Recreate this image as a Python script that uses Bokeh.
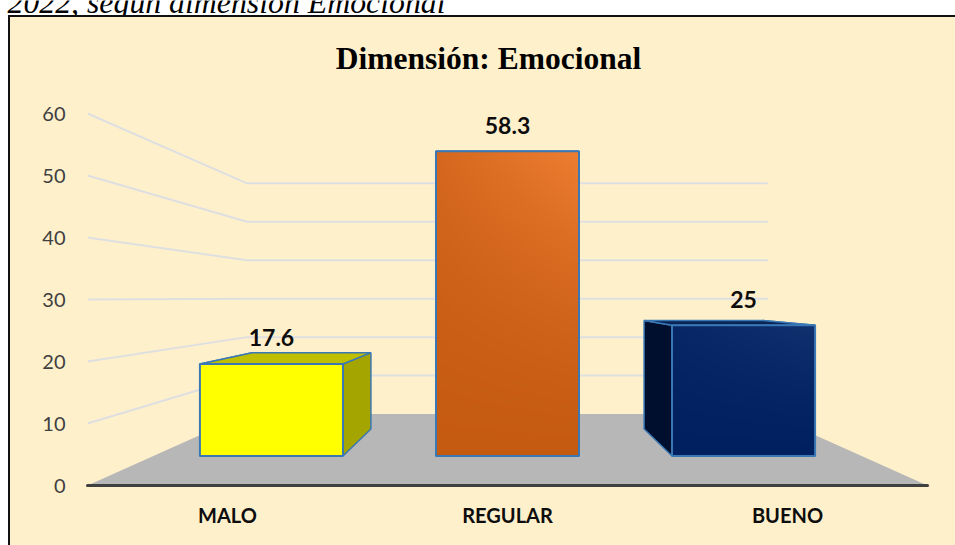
import numpy as np
from bokeh.embed import file_html
from bokeh.models import FixedTicker, Range1d
from bokeh.plotting import figure
from bokeh.resources import INLINE
from bokeh.core.properties import value

categories = ["MALO", "REGULAR", "BUENO"]
values = [17.6, 58.3, 25]
value_labels = ["17.6", "58.3", "25"]
y_ticks = [0, 10, 20, 30, 40, 50, 60]
title_text = "Dimensión: Emocional"
caption_text = "2022, según dimensión Emocional"

# colours per bar: front (dark / light end of the shading), top, left side, right side
front_low = ["#FFFF00", "#C55A11", "#002060"]
front_high = ["#FFFF00", "#ED7D31", "#10306E"]
top_colors = ["#BFBF00", "#843C0C", "#0A2456"]
left_colors = ["#A5A500", "#843C0C", "#000F2E"]
right_colors = ["#A5A500", "#843C0C", "#000F2E"]

# 3-D projection of the original chart
DEPTH_SHRINK = 0.38
FLOOR_LIFT = 11.53
FACE_DEPTH = 0.413
REAR_DEPTH = 0.79
BAR_WIDTH = 0.606
CENTER = 1.5
OUTLINE = "#3A78B5"
PAPER = "#FFF0CC"


def px(u, d):
    return CENTER + (u - CENTER) * (1 - DEPTH_SHRINK * d)


def py(v, d):
    return FLOOR_LIFT * d + v * (1 - DEPTH_SHRINK * d)


# strip of the surrounding document, cut off by the top of the page
head = figure(width=955, height=15, output_backend="svg", toolbar_location=None,
              x_range=Range1d(0, 955), y_range=Range1d(0, 15),
              x_axis_location=None, y_axis_location=None,
              min_border=0, background_fill_color="white", border_fill_color="white",
              outline_line_color=None)
head.grid.visible = False
head.styles = {"position": "absolute", "left": "0px", "top": "0px"}
head.text(x=[7], y=[13], text=[caption_text], text_font=value("Liberation Serif"),
          text_font_style="italic", text_font_size="31.8px", text_color="#000000",
          text_baseline="alphabetic")

p = figure(
    width=947, height=530, output_backend="svg", toolbar_location=None,
    x_range=Range1d(0, 3), y_range=Range1d(0, 468 / 6.2),
    min_border_left=77, min_border_right=30, min_border_top=0, min_border_bottom=62,
    background_fill_color=None,
    border_fill_color=PAPER, border_fill_alpha=1, outline_line_color=None,
)
p.styles = {"position": "absolute", "left": "8px", "top": "15px", "background-color": PAPER,
            "border-top": "2px solid #111111", "border-left": "2px solid #111111"}
p.grid.visible = False

# axes
p.yaxis.ticker = FixedTicker(ticks=y_ticks)
p.yaxis.major_tick_line_color = None
p.yaxis.minor_tick_line_color = None
p.yaxis.axis_line_color = None
p.yaxis.major_label_standoff = 16
p.yaxis.major_label_text_font = "Lato"
p.yaxis.major_label_text_font_size = "20px"
p.yaxis.major_label_text_color = "#404040"

p.xaxis.ticker = FixedTicker(ticks=[i + 0.5 for i in range(len(categories))])
p.xaxis.major_label_overrides = {i + 0.5: c for i, c in enumerate(categories)}
p.xaxis.major_tick_line_color = None
p.xaxis.minor_tick_line_color = None
p.xaxis.axis_line_color = "#404040"
p.xaxis.axis_line_width = 3
p.xaxis.axis_line_cap = "round"
p.xaxis.major_label_standoff = 11
p.xaxis.major_label_text_font = "Lato"
p.xaxis.major_label_text_font_style = "bold"
p.xaxis.major_label_text_font_size = "20px"
p.xaxis.major_label_text_color = "#0D0D0D"

# wall lines
for t in y_ticks[1:]:
    p.line([px(0, 0), px(0, 1), px(3, 1)], [py(t, 0), py(t, 1), py(t, 1)],
           line_color="#DEDFE1", line_width=2)

# floor
p.patch([px(0, 0), px(0, 1), px(3, 1), px(3, 0)], [0, py(0, 1), py(0, 1), 0],
        fill_color="#B7B7B7", line_color=None)

# bars
for i, v in enumerate(values):
    c = i + 0.5
    l, r = c - BAR_WIDTH / 2, c + BAR_WIDTH / 2
    fa, re = FACE_DEPTH, REAR_DEPTH
    # left and right sides, then the top (the front face hides whatever is behind it)
    p.patch([px(l, fa), px(l, re), px(l, re), px(l, fa)],
            [py(0, fa), py(0, re), py(v, re), py(v, fa)],
            fill_color=left_colors[i], line_color=OUTLINE, line_width=1.5)
    p.patch([px(r, fa), px(r, re), px(r, re), px(r, fa)],
            [py(0, fa), py(0, re), py(v, re), py(v, fa)],
            fill_color=right_colors[i], line_color=OUTLINE, line_width=1.5)
    p.patch([px(l, fa), px(l, re), px(r, re), px(r, fa)],
            [py(v, fa), py(v, re), py(v, re), py(v, fa)],
            fill_color=top_colors[i], line_color=OUTLINE, line_width=1.5)
    # front face, with the chart's diagonal shading
    x0, x1, y0, y1 = px(l, fa), px(r, fa), py(0, fa), py(v, fa)
    lo = np.array([int(front_low[i][k:k + 2], 16) for k in (1, 3, 5)], dtype=float)
    hi = np.array([int(front_high[i][k:k + 2], 16) for k in (1, 3, 5)], dtype=float)
    ny, nx = max(int((y1 - y0) * 6), 2), 143
    gy, gx = np.mgrid[0:1:complex(ny), 0:1:complex(nx)]
    # darkest at the bottom, lightest at the top-right corner
    ramp = np.clip(gy ** 1.5 * (0.4 + 0.6 * gx), 0, 1)
    rgb = lo[None, None, :] + (hi - lo)[None, None, :] * ramp[:, :, None]
    img = np.zeros((ny, nx), dtype=np.uint32)
    view = img.view(dtype=np.uint8).reshape((ny, nx, 4))
    view[:, :, :3] = rgb.round().astype(np.uint8)
    view[:, :, 3] = 255
    p.image_rgba(image=[img], x=[x0], y=[y0], dw=[x1 - x0], dh=[y1 - y0])
    p.quad(left=[x0], right=[x1], bottom=[y0], top=[y1], fill_color=None,
           line_color=OUTLINE, line_width=2)
    # value label above the face
    p.text(x=[px(c, fa)], y=[y1], text=[value_labels[i]], text_font=value("Lato"),
           text_font_style="bold", text_font_size="23px", text_color="#0D0D0D",
           text_align="center", text_baseline="middle", y_offset=-26)

# chart title
p.text(x=[(488 - 87) / 280], y=[(485 - 58) / 6.2], text=[title_text],
       text_font=value("Liberation Serif"), text_font_style="bold",
       text_font_size="31.5px", text_color="#000000", text_align="center",
       text_baseline="middle")

open("out.html", "w").write(file_html([head, p], INLINE))
